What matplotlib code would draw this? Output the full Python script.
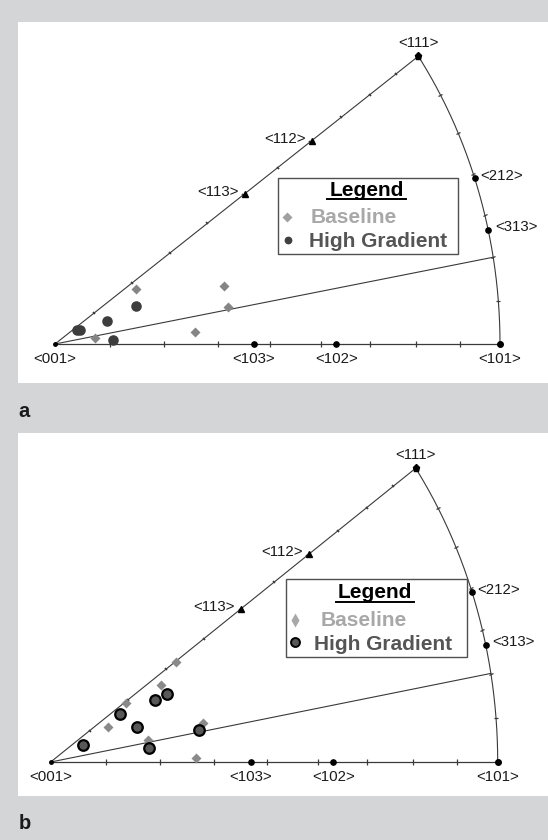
import numpy as np
import matplotlib
matplotlib.use("Agg")
import matplotlib.pyplot as plt
from matplotlib.markers import MarkerStyle
from matplotlib.patches import Rectangle
from matplotlib.lines import Line2D
from matplotlib.transforms import Affine2D

plt.rcParams["font.family"] = ["Liberation Sans", "DejaVu Sans"]

W, H = 548, 840

# orientations in the [001]-[101]-[111] unit triangle, orthographic
# projection scaled so that <101> sits at x = 1
BASE_A_X = [0.182, 0.380, 0.389, 0.314, 0.090]
BASE_A_Y = [0.155, 0.165, 0.104, 0.034, 0.018]
HG_A_X = [0.049, 0.056, 0.117, 0.182, 0.131]
HG_A_Y = [0.040, 0.040, 0.065, 0.108, 0.010]

BASE_B_X = [0.280, 0.246, 0.169, 0.128, 0.218, 0.341, 0.324]
BASE_B_Y = [0.278, 0.213, 0.164, 0.096, 0.061, 0.109, 0.011]
HG_B_X = [0.073, 0.155, 0.194, 0.233, 0.261, 0.219, 0.332]
HG_B_Y = [0.048, 0.133, 0.096, 0.172, 0.188, 0.040, 0.089]

POLE_NAMES = ["<001>", "<103>", "<102>", "<101>", "<111>", "<113>", "<112>", "<212>", "<313>"]
POLE_DIRS = [(0, 0, 1), (1, 0, 3), (1, 0, 2), (1, 0, 1), (1, 1, 1),
             (1, 1, 3), (1, 1, 2), (2, 1, 2), (3, 1, 3)]

BG = "#d4d5d7"
LINE = "#3a3a3a"


def proj(v):
    v = np.asarray(v, float)
    v = v / np.linalg.norm(v, axis=-1, keepdims=True)
    return v[..., 0] / np.sqrt(0.5), v[..., 1] / np.sqrt(0.5)


def fpx(x, y):
    return x / W, 1 - y / H


# marker / label style per pole
POLE_STYLE = {
    "<001>": ("o", 2.5, (0, -10.8), "center"),
    "<103>": ("o", 3.8, (0, -10.8), "center"),
    "<102>": ("o", 3.8, (0, -10.8), "center"),
    "<101>": ("o", 4.0, (0, -10.8), "center"),
    "<111>": ("p", 5.2, (0, 9.8), "center"),
    "<113>": ("^", 4.5, (-4.5, 1.4), "right"),
    "<112>": ("^", 4.5, (-4.5, 1.4), "right"),
    "<212>": ("o", 3.8, (3.8, 1.6), "left"),
    "<313>": ("o", 3.8, (4.8, 2.2), "left"),
}


def tick_marks(ax, xs, ys, tx, ty, size, lw=0.9):
    # short marks perpendicular to the local direction (tx, ty) in display space
    for x, y, dx, dy in zip(xs, ys, tx, ty):
        p0 = ax.transData.transform((x, y))
        p1 = ax.transData.transform((x + dx * 1e-3, y + dy * 1e-3))
        ang = np.degrees(np.arctan2(p1[1] - p0[1], p1[0] - p0[0]))
        m = MarkerStyle("|", transform=Affine2D().rotate_deg(ang))
        ax.plot([x], [y], marker=m, ms=size, mew=lw, color=LINE, ls="none", zorder=2)


def draw_triangle(ax):
    # [001]-[101] edge
    ax.plot([0, 1], [0, 0], color=LINE, lw=0.9, zorder=1)
    # [001]-[111] edge
    x111, y111 = proj((1, 1, 1))
    ax.plot([0, x111], [0, y111], color=LINE, lw=0.8, zorder=1)
    # [001]-[414] line
    x414, y414 = proj((4, 1, 4))
    ax.plot([0, x414], [0, y414], color=LINE, lw=0.8, zorder=1)
    # [101]-[111] great circle
    tmax = np.arccos(np.sqrt(2.0 / 3.0))
    t = np.linspace(0, tmax, 200)
    arc = np.stack([np.cos(t) / np.sqrt(2), np.sin(t), np.cos(t) / np.sqrt(2)], axis=-1)
    ax_, ay_ = proj(arc)
    ax.plot(ax_, ay_, color=LINE, lw=0.8, zorder=1)

    # 5 degree ticks
    th = np.radians(np.arange(5, 45, 5))
    bx = np.sin(th) * np.sqrt(2)
    tick_marks(ax, bx, np.zeros_like(bx), np.ones_like(bx), np.zeros_like(bx), 4.6)
    th = np.radians(np.arange(5, 55, 5))
    lx = np.sin(th)
    tick_marks(ax, lx, lx, np.ones_like(lx), np.ones_like(lx), 2.4, lw=1.2)
    tt = np.radians(np.arange(5, 35, 5))
    arc_t = np.stack([np.cos(tt) / np.sqrt(2), np.sin(tt), np.cos(tt) / np.sqrt(2)], axis=-1)
    cx, cy = proj(arc_t)
    dxs = -np.sin(tt)
    dys = np.cos(tt)
    tick_marks(ax, cx, cy, dxs, dys, 3.4)

    for name, d in zip(POLE_NAMES, POLE_DIRS):
        mk, ms, off, ha = POLE_STYLE[name]
        x, y = proj(d)
        ax.plot([x], [y], marker=mk, ms=ms, color="black", ls="none", zorder=4)
        ax.annotate(name, (x, y), xytext=off, textcoords="offset points",
                    ha=ha, va="center", fontsize=10.8, color="#1a1a1a", zorder=4)


def draw_legend(fig, box, title_xy, ul, base_xy, hg_xy, dmk, cmk):
    x0, y0, x1, y1 = box
    fig.add_artist(Rectangle(fpx(x0, y1), (x1 - x0) / W, (y1 - y0) / H,
                             transform=fig.transFigure, fc="white", ec="#505050",
                             lw=1.0, zorder=5))
    fig.text(*fpx(*title_xy), "Legend", ha="center", va="baseline",
             fontsize=15, fontweight="bold", color="black", zorder=6)
    fig.add_artist(Line2D([ul[0] / W, ul[1] / W], [1 - ul[2] / H] * 2,
                          transform=fig.transFigure, color="black", lw=1.4, zorder=6))
    fig.text(*fpx(*base_xy), "Baseline", ha="left", va="baseline",
             fontsize=15, fontweight="bold", color="#a8a8a8", zorder=6)
    fig.text(*fpx(*hg_xy), "High Gradient", ha="left", va="baseline",
             fontsize=15, fontweight="bold", color="#555555", zorder=6)
    for (mx, my), kw in (dmk, cmk):
        fx, fy = fpx(mx, my)
        fig.add_artist(Line2D([fx], [fy], transform=fig.transFigure, ls="none",
                              zorder=6, **kw))


PANELS = [
    dict(rect=(18, 22, 548, 383), origin=(55, 344), scale=445, sy=0.792,
         base=(BASE_A_X, BASE_A_Y), hg=(HG_A_X, HG_A_Y),
         base_kw=dict(marker="D", ms=5.0, color="#858585", mec="none"),
         hg_kw=dict(marker="o", ms=7.6, color="#3d3d3d", mec="none"),
         letter="a", letter_xy=(18, 417),
         legend=dict(box=(278, 178, 458, 254), title_xy=(367, 196),
                     ul=(327, 406, 199), base_xy=(311, 223), hg_xy=(309, 247),
                     dmk=((287, 217), dict(marker="D", ms=4.8, color="#a0a0a0", mec="none")),
                     cmk=((288, 240), dict(marker="o", ms=5.6, color="#404040", mec="none")))),
    dict(rect=(18, 433, 548, 796), origin=(50.7, 762), scale=447, sy=0.805,
         base=(BASE_B_X, BASE_B_Y), hg=(HG_B_X, HG_B_Y),
         base_kw=dict(marker="D", ms=4.8, color="#8a8a8a", mec="none"),
         hg_kw=dict(marker="o", ms=7.6, color="#585858", mec="black", mew=1.6),
         letter="b", letter_xy=(19, 829),
         legend=dict(box=(286, 579, 467, 657), title_xy=(375, 598),
                     ul=(336, 414, 601.5), base_xy=(321, 626), hg_xy=(314, 650),
                     dmk=((295, 620), dict(marker="d", ms=7.0, color="#a8a8a8", mec="none")),
                     cmk=((295, 642), dict(marker="o", ms=6.4, color="#585858",
                                           mec="black", mew=1.4)))),
]

fig = plt.figure(figsize=(W / 100, H / 100), dpi=100, facecolor=BG)

for p in PANELS:
    l, t, r, b = p["rect"]
    ox, oy = p["origin"]
    s, sy = p["scale"], p["sy"]
    ax = fig.add_axes([l / W, 1 - b / H, (r - l) / W, (b - t) / H])
    ax.set_facecolor("white")
    ax.set_xlim((l - ox) / s, (r - ox) / s)
    ax.set_ylim((oy - b) / (s * sy), (oy - t) / (s * sy))
    ax.set_xticks([])
    ax.set_yticks([])
    for sp in ax.spines.values():
        sp.set_visible(False)

    draw_triangle(ax)
    ax.plot(*p["base"], ls="none", zorder=3, **p["base_kw"])
    ax.plot(*p["hg"], ls="none", zorder=3, **p["hg_kw"])

    draw_legend(fig, **p["legend"])
    fig.text(*fpx(*p["letter_xy"]), p["letter"], ha="left", va="baseline",
             fontsize=14.5, fontweight="bold", color="#1a1a1a")

fig.savefig("out.png", dpi=100, facecolor=BG)
